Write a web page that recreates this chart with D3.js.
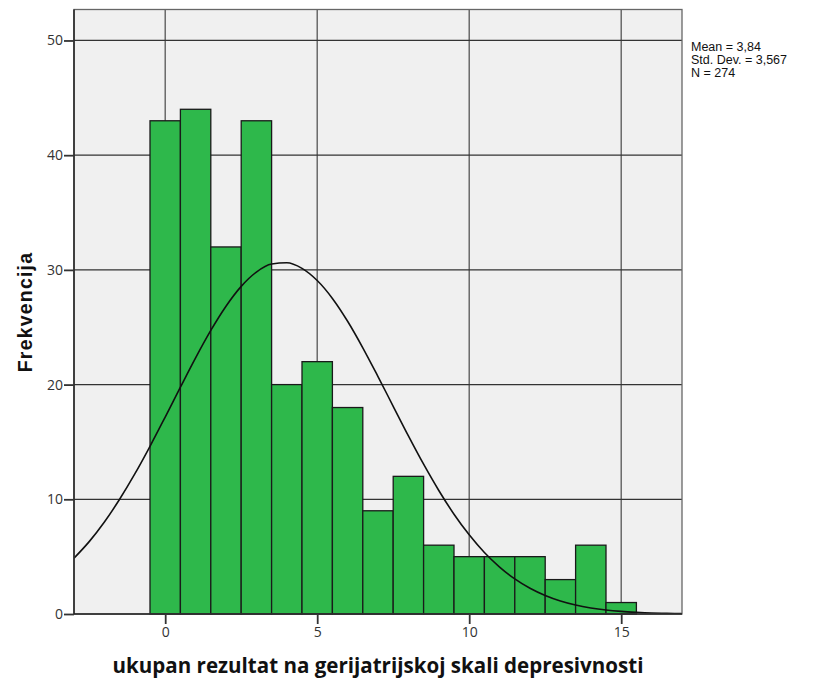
<!DOCTYPE html>
<html><head><meta charset="utf-8">
<script src="https://cdn.jsdelivr.net/npm/d3@7"></script>
<style>body{margin:0;background:#fff}svg{display:block}</style>
</head><body>
<svg id="c" width="818" height="684"></svg>
<script>
const binCenters = [0,1,2,3,4,5,6,7,8,9,10,11,12,13,14,15];
const frequencies = [43,44,32,43,20,22,18,9,12,6,5,5,5,3,6,1];
const curveX = [-3,-2.5,-2,-1.5,-1,-0.5,0,0.5,1,1.5,2,2.5,3,3.5,4,4.5,5,5.5,6,6.5,7,7.5,8,8.5,9,9.5,10,10.5,11,11.5,12,12.5,13,13.5,14,14.5,15,15.5,16,16.5,17];
const curveY = [4.87,6.31,8.02,10.0,12.21,14.62,17.17,19.77,22.33,24.72,26.83,28.56,29.81,30.51,30.62,30.13,29.07,27.51,25.52,23.21,20.70,18.11,15.53,13.06,10.77,8.70,6.90,5.36,4.09,3.06,2.24,1.61,1.13,0.78,0.53,0.35,0.23,0.15,0.09,0.06,0.03];
const xTicks = [0,5,10,15];
const yTicks = [0,10,20,30,40,50];
const statsLines = ["Mean = 3,84","Std. Dev. = 3,567","N = 274"];
const xTitle = "ukupan rezultat na gerijatrijskoj skali depresivnosti";
const yTitle = "Frekvencija";

const svg = d3.select("#c");
const L=74, R=682, T=9.5, B=614;
const x = d3.scaleLinear().domain([-3,17]).range([L,R]);
const y = d3.scaleLinear().domain([0,52.7]).range([B,T]);

svg.append("rect").attr("x",L).attr("y",T).attr("width",R-L).attr("height",B-T).attr("fill","#f0f0f0");

// grid
svg.append("g").selectAll("line").data(xTicks).join("line")
  .attr("x1",d=>x(d)).attr("x2",d=>x(d)).attr("y1",T).attr("y2",B)
  .attr("stroke","#555").attr("stroke-width",1.3);
svg.append("g").selectAll("line").data(yTicks.filter(d=>d>0)).join("line")
  .attr("x1",L).attr("x2",R).attr("y1",d=>y(d)).attr("y2",d=>y(d))
  .attr("stroke","#333").attr("stroke-width",1.3);

// bars
svg.append("g").selectAll("rect").data(binCenters).join("rect")
  .attr("x",(d)=>x(d-0.5)).attr("width",(d)=>x(d+0.5)-x(d-0.5))
  .attr("y",(d,i)=>y(frequencies[i])).attr("height",(d,i)=>B-y(frequencies[i]))
  .attr("fill","#2eb84b").attr("stroke","#1a1a1a").attr("stroke-width",1.3);

// curve
svg.append("clipPath").attr("id","clip").append("rect").attr("x",L).attr("y",T).attr("width",R-L).attr("height",B-T);
const line = d3.line().x((d,i)=>x(curveX[i])).y(d=>y(d)).curve(d3.curveMonotoneX);
svg.append("path").attr("d",line(curveY)).attr("fill","none").attr("stroke","#111").attr("stroke-width",1.6).attr("clip-path","url(#clip)");

// frame
svg.append("rect").attr("x",L).attr("y",T).attr("width",R-L).attr("height",B-T).attr("fill","none").attr("stroke","#666").attr("stroke-width",1.3);

// axes
const ya = svg.append("g").attr("transform",`translate(${L},0)`).call(d3.axisLeft(y).tickValues(yTicks).tickSize(10).tickSizeOuter(0));
const xa = svg.append("g").attr("transform",`translate(0,${B})`).call(d3.axisBottom(x).tickValues(xTicks).tickSize(10).tickSizeOuter(0));
[ya,xa].forEach(a=>{
  a.select(".domain").attr("stroke","#222").attr("stroke-width",1.5);
  a.selectAll(".tick line").attr("stroke","#333").attr("stroke-width",1.8);
  a.selectAll("text").attr("font-family","'Open Sans', 'DejaVu Sans', sans-serif").attr("font-size",14).attr("fill","#333");
});
ya.select(".domain").attr("d",`M0,${B}V${T}`);
xa.select(".domain").attr("d",`M${L},0H${R}`);
ya.selectAll(".tick text").attr("x",-11);
xa.selectAll(".tick text").attr("y",13);

// titles
function fitText(sel, w){
  const cur = sel.node().getComputedTextLength();
  const fs = parseFloat(sel.attr("font-size"));
  sel.attr("font-size", fs*w/cur);
}
const xt = svg.append("text").attr("x",378).attr("y",673).attr("text-anchor","middle")
  .attr("font-family","'Open Sans', sans-serif").attr("font-weight","bold").attr("font-size",18).attr("fill","#111").text(xTitle);
fitText(xt, 531);
svg.append("text").attr("transform",`translate(32,312) rotate(-90)`).attr("text-anchor","middle")
  .attr("font-family","'Liberation Sans', Arial, sans-serif").attr("font-weight","bold").attr("font-size",19.5)
  .attr("letter-spacing",1.2).attr("fill","#111").text(yTitle);

svg.append("g").selectAll("text").data(statsLines).join("text")
  .attr("x",691).attr("y",(d,i)=>51+i*13)
  .attr("font-family","'Liberation Sans', Arial, sans-serif").attr("font-size",12.5).attr("fill","#111").text(d=>d);
</script>
</body></html>
